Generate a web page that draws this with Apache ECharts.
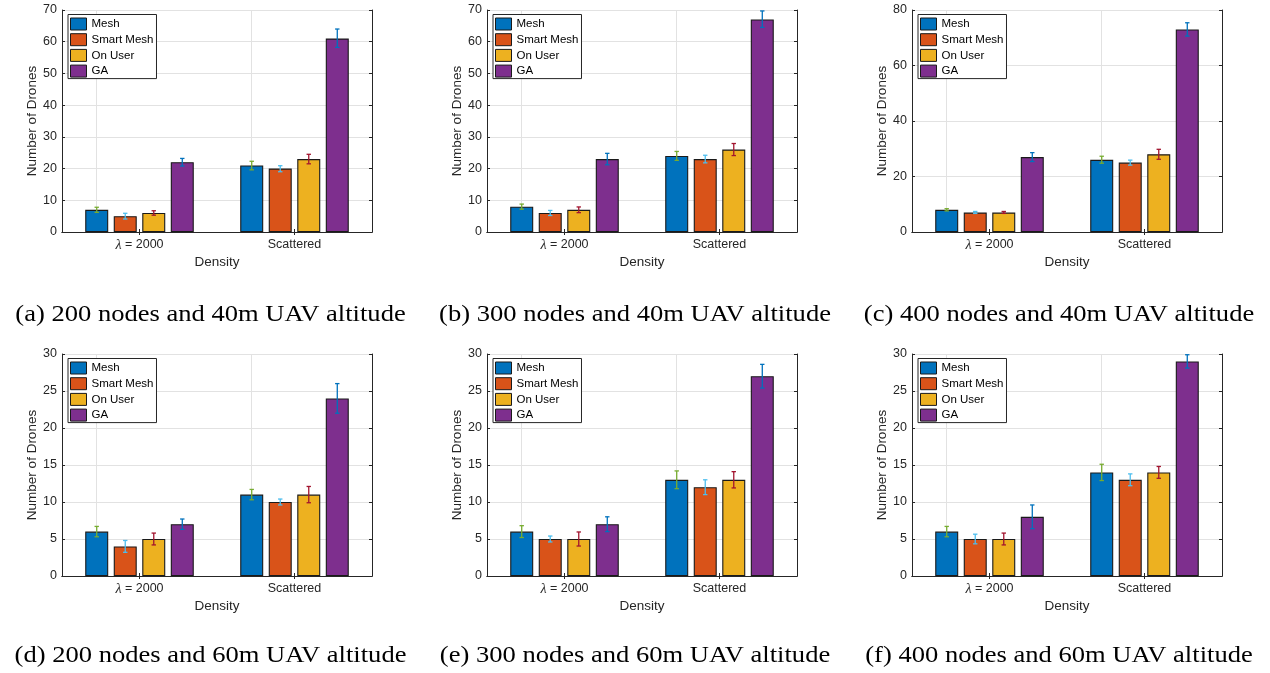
<!DOCTYPE html>
<html><head><meta charset="utf-8">
<script src="https://cdn.jsdelivr.net/npm/echarts@6/dist/echarts.min.js"></script>
<style>html,body{margin:0;padding:0;background:#fff}#c{width:1270px;height:673px}</style>
</head><body><div id="c"></div>
<script>
// ---------- data ----------
const categories = ['λ = 2000', 'Scattered'];
const methods = ['Mesh', 'Smart Mesh', 'On User', 'GA'];
const captions = [
  '(a) 200 nodes and 40m UAV altitude',
  '(b) 300 nodes and 40m UAV altitude',
  '(c) 400 nodes and 40m UAV altitude',
  '(d) 200 nodes and 60m UAV altitude',
  '(e) 300 nodes and 60m UAV altitude',
  '(f) 400 nodes and 60m UAV altitude'
];
const yMax = [70, 70, 80, 30, 30, 30];
const yStep = [10, 10, 20, 5, 5, 5];
const xTitle = 'Density';
const yTitle = 'Number of Drones';

// each: [Mesh, Smart Mesh, On User, GA], each pair = [λ = 2000, Scattered]
const meanA = [[7, 21], [5, 20], [6, 23], [22, 61]];
const lowA  = [[6.2, 19.6], [4.1, 19.0], [5.3, 21.5], [20.8, 58.2]];
const highA = [[7.8, 22.3], [5.9, 20.9], [6.7, 24.5], [23.2, 64.0]];

const meanB = [[8, 24], [6, 23], [7, 26], [23, 67]];
const lowB  = [[7.2, 22.6], [5.2, 21.8], [6.1, 24.1], [21.2, 64.5]];
const highB = [[8.8, 25.4], [6.8, 24.2], [7.9, 27.9], [24.8, 69.7]];

const meanC = [[8, 26], [7, 25], [7, 28], [27, 73]];
const lowC  = [[7.6, 24.8], [6.7, 24.1], [6.7, 26.2], [25.4, 70.6]];
const highC = [[8.4, 27.3], [7.4, 25.9], [7.4, 29.8], [28.6, 75.4]];

const meanD = [[6, 11], [4, 10], [5, 11], [7, 24]];
const lowD  = [[5.3, 10.3], [3.2, 9.6], [4.2, 9.9], [6.3, 22.0]];
const highD = [[6.7, 11.7], [4.8, 10.4], [5.8, 12.1], [7.7, 26.0]];

const meanE = [[6, 13], [5, 12], [5, 13], [7, 27]];
const lowE  = [[5.2, 11.8], [4.6, 11.0], [4.05, 11.9], [6.0, 25.4]];
const highE = [[6.8, 14.2], [5.4, 13.0], [5.95, 14.1], [8.0, 28.6]];

const meanF = [[6, 14], [5, 13], [5, 14], [8, 29]];
const lowF  = [[5.3, 12.9], [4.35, 12.2], [4.2, 13.2], [6.4, 28.1]];
const highF = [[6.7, 15.1], [5.65, 13.8], [5.8, 14.8], [9.6, 29.9]];

const means = [meanA, meanB, meanC, meanD, meanE, meanF];
const lows  = [lowA, lowB, lowC, lowD, lowE, lowF];
const highs = [highA, highB, highC, highD, highE, highF];

// ---------- layout & style ----------
const FONT = 'Liberation Sans';
const AX = '#262626';
const barColors = ['#0072BD', '#D95319', '#EDB120', '#7E2F8E'];
const errColors = ['#77AC30', '#4DBEEE', '#A2142F', '#0072BD'];
const gridLeft = [62, 487, 912, 62, 487, 912];
const gridTop = [10, 10, 10, 354, 354, 354];
const GW = 310, GH = 222;
const BAR_W = 23, BAR_GAP = 0.24;
const captionX = [210.5, 635, 1059, 210.5, 635, 1059];
const captionY = [315, 315, 315, 656, 656, 656];

const grids = [], xAxes = [], yAxes = [], series = [], legends = [], graphics = [];

for (let p = 0; p < 6; p++) {
  grids.push({ left: gridLeft[p], top: gridTop[p], width: GW, height: GH, containLabel: false, outerBoundsMode: 'none' });
  const tick = { show: true, inside: true, length: 3, alignWithLabel: true, lineStyle: { color: AX, width: 1 } };
  const line = { show: true, lineStyle: { color: AX, width: 1 } };
  xAxes.push({
    type: 'category', gridIndex: p, data: categories, position: 'bottom',
    axisLine: line, axisTick: tick,
    axisLabel: { fontSize: 12.5, color: AX, margin: 6, fontFamily: FONT,
      formatter: v => v.replace('λ', '{l|λ}'),
      rich: { l: { fontFamily: 'Liberation Serif', fontStyle: 'italic', fontSize: 14, color: AX } } },
    splitLine: { show: false },
    name: xTitle, nameLocation: 'middle', nameGap: 23,
    nameTextStyle: { fontSize: 13.5, color: AX, fontFamily: FONT }
  });
  xAxes.push({
    type: 'category', gridIndex: p, data: categories, position: 'top',
    axisLine: line, axisTick: tick, axisLabel: { show: false }, splitLine: { show: false }
  });
  yAxes.push({
    type: 'value', gridIndex: p, min: 0, max: yMax[p], interval: yStep[p], position: 'left',
    axisLine: line, axisTick: { show: true, inside: true, length: 3, lineStyle: { color: AX } },
    axisLabel: { fontSize: 12.5, color: AX, margin: 5, fontFamily: FONT },
    splitLine: { show: true, lineStyle: { color: '#e2e2e2', width: 1 } },
    name: yTitle, nameLocation: 'middle', nameGap: 17,
    nameTextStyle: { fontSize: 13.5, color: AX, fontFamily: FONT }
  });
  yAxes.push({
    type: 'value', gridIndex: p, min: 0, max: yMax[p], interval: yStep[p], position: 'right',
    axisLine: line, axisTick: { show: true, inside: true, length: 3, lineStyle: { color: AX } },
    axisLabel: { show: false }, splitLine: { show: false }
  });

  for (let m = 0; m < 4; m++) {
    const s = {
      type: 'bar', name: methods[m], xAxisIndex: 2 * p, yAxisIndex: 2 * p,
      data: means[p][m], barWidth: BAR_W, barGap: (BAR_GAP * 100) + '%',
      itemStyle: { color: barColors[m], borderColor: '#1a1a1a', borderWidth: 1.1 },
      emphasis: { disabled: true }, silent: true, z: 2
    };
    if (m === 0) {
      s.markLine = {
        silent: true, symbol: 'none', z: 1, animation: false,
        label: { show: false },
        lineStyle: { color: '#e2e2e2', width: 1, type: 'solid' },
        emphasis: { disabled: true },
        data: categories.map(c => ({ xAxis: c }))
      };
    }
    series.push(s);

    const off = (m - 1.5) * BAR_W * (1 + BAR_GAP);
    const col = errColors[m];
    series.push({
      type: 'custom', xAxisIndex: 2 * p, yAxisIndex: 2 * p, silent: true, z: 3,
      data: categories.map((c, i) => [i, lows[p][m][i], highs[p][m][i]]),
      renderItem: (params, api) => {
        const lo = api.coord([api.value(0), api.value(1)]);
        const hi = api.coord([api.value(0), api.value(2)]);
        const x = lo[0] + off, cw = 2.2;
        const st = { stroke: col, lineWidth: 1.3, fill: null };
        return { type: 'group', children: [
          { type: 'line', shape: { x1: x, y1: lo[1], x2: x, y2: hi[1] }, style: st },
          { type: 'line', shape: { x1: x - cw, y1: lo[1], x2: x + cw, y2: lo[1] }, style: st },
          { type: 'line', shape: { x1: x - cw, y1: hi[1], x2: x + cw, y2: hi[1] }, style: st }
        ]};
      }
    });
  }

  legends.push({
    data: methods, orient: 'vertical', left: gridLeft[p] + 6, top: gridTop[p] + 4.5,
    icon: 'rect', itemWidth: 16, itemHeight: 12, itemGap: 2.7,
    padding: [3, 3, 1, 2], borderColor: AX, borderWidth: 1, backgroundColor: '#fff',
    itemStyle: { borderColor: '#1a1a1a', borderWidth: 1 },
    textStyle: { fontSize: 11.5, color: '#000', fontFamily: FONT, lineHeight: 12 },
    selectedMode: false, z: 10
  });

  graphics.push({
    type: 'text', x: captionX[p], y: captionY[p], scaleX: 1.13, silent: true,
    style: {
      text: captions[p],
      font: '23.5px "Liberation Serif"', fill: '#000',
      textAlign: 'center', textVerticalAlign: 'middle'
    }
  });
}

const chart = echarts.init(document.getElementById('c'), null, { renderer: 'canvas' });
chart.setOption({
  animation: false,
  backgroundColor: '#fff',
  textStyle: { fontFamily: FONT },
  grid: grids, xAxis: xAxes, yAxis: yAxes, legend: legends,
  series: series, graphic: graphics
});
</script></body></html>
